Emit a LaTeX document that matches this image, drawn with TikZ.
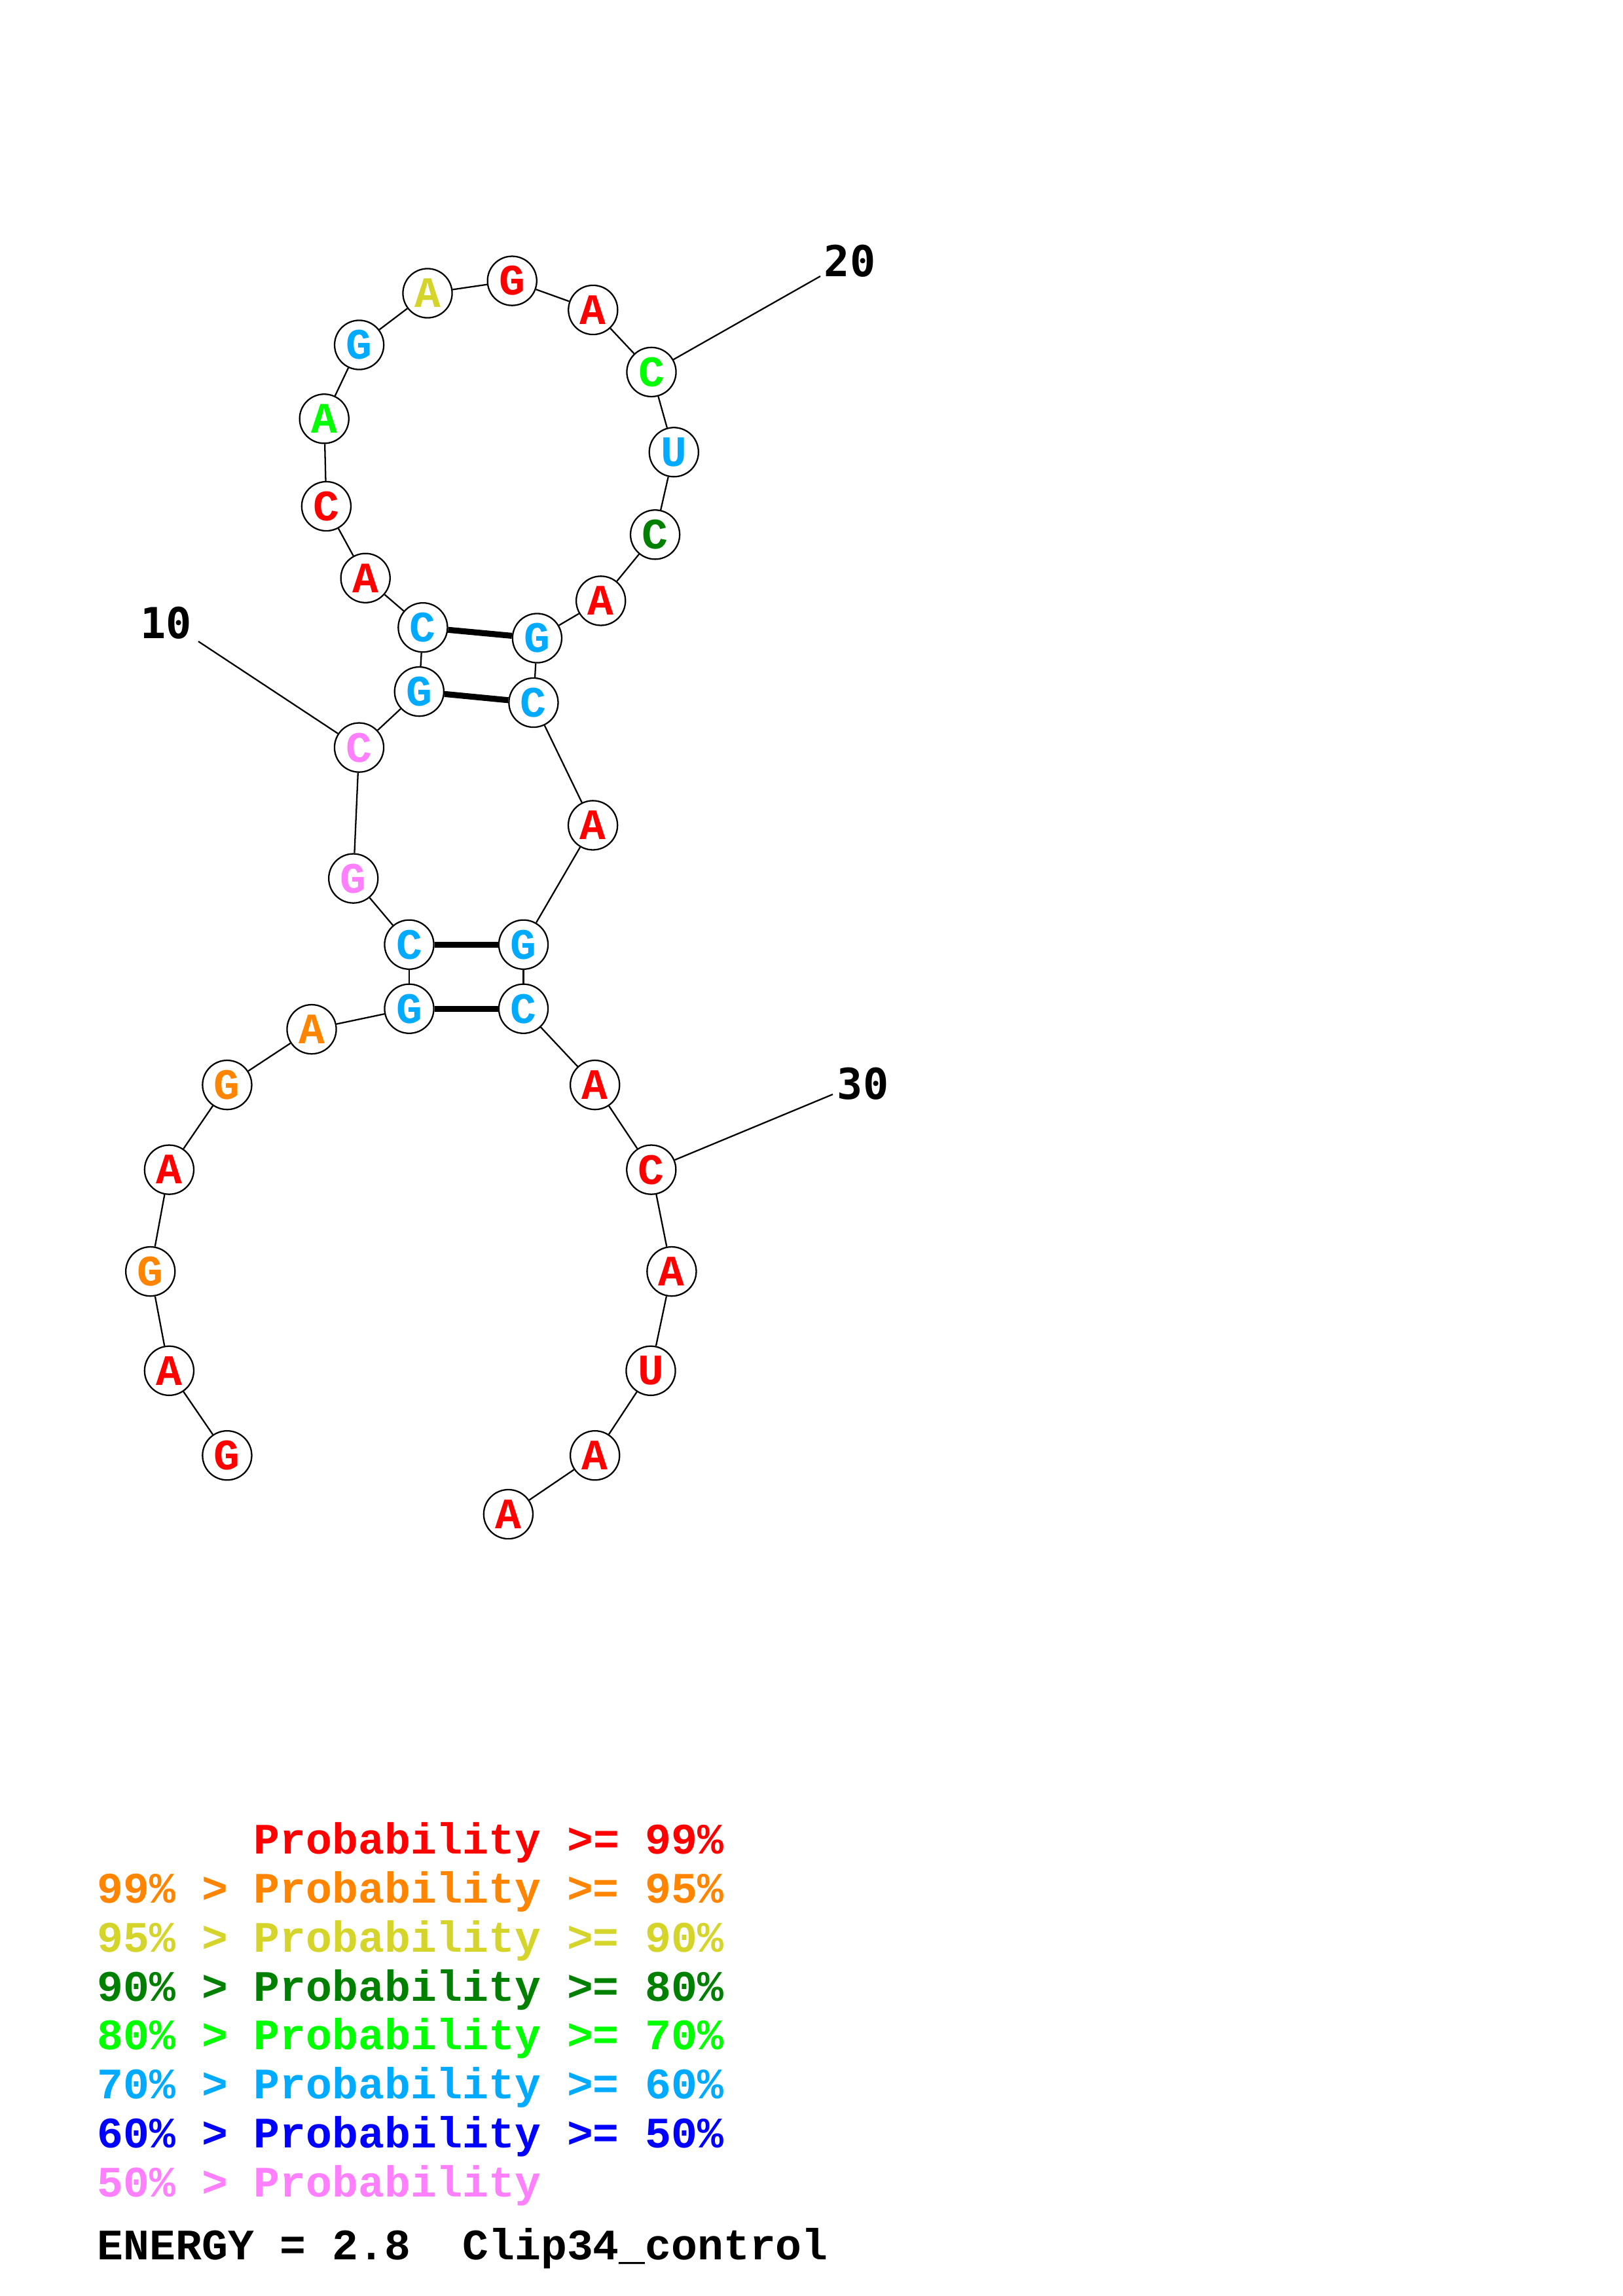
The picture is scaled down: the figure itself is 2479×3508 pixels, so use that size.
\documentclass[tikz,border=0pt]{standalone}
\usepackage{fontspec}
\setmonofont{Liberation Mono}
\newfontfamily\labfont{DejaVu Sans Mono}
\definecolor{cR}{RGB}{255,0,0}
\definecolor{cO}{RGB}{255,133,0}
\definecolor{cY}{RGB}{212,212,42}
\definecolor{cDG}{RGB}{0,128,0}
\definecolor{cG}{RGB}{0,255,0}
\definecolor{cLB}{RGB}{0,170,255}
\definecolor{cB}{RGB}{0,0,255}
\definecolor{cP}{RGB}{255,128,255}
\begin{document}
\frenchspacing
\begin{tikzpicture}[x=0.2409pt,y=-0.2409pt,
  nt/.style={circle,draw=black,fill=white,line width=0.55pt,minimum size=18.1pt,inner sep=0pt,
    font=\ttfamily\bfseries\fontsize{16}{16}\selectfont},
  bb/.style={line width=0.55pt},
  pairline/.style={line width=2.2pt},
  numlab/.style={inner sep=0pt,font=\labfont\bfseries\fontsize{15.7}{16}\selectfont},
  leg/.style={anchor=base west,inner sep=0pt,font=\ttfamily\bfseries\fontsize{16}{16}\selectfont}]
\useasboundingbox (0,0) rectangle (2479,3508);
\foreach \i/\x/\y/\b/\c in {
 1/346.9/2223.7/G/cR, 2/258.4/2094.3/A/cR, 3/229.7/1942.6/G/cO, 4/258.4/1787.1/A/cR,
 5/346.9/1657.6/G/cO, 6/476.0/1572.6/A/cO, 7/625.0/1541.2/G/cLB, 8/625.0/1443.2/C/cLB,
 9/539.7/1342.1/G/cP, 10/548.5/1142.1/C/cP, 11/640.3/1056.6/G/cLB, 12/645.9/958.7/C/cLB,
 13/558.2/883.2/A/cR, 14/498.4/773.5/C/cR, 15/495.2/639.8/A/cG, 16/548.6/527.0/G/cLB,
 17/653.0/448.0/A/cY, 18/782.2/429.1/G/cR, 19/905.8/473.5/A/cR, 20/995.0/568.4/C/cG,
 21/1029.3/690.8/U/cLB, 22/1000.6/816.8/C/cDG, 23/917.7/917.9/A/cR, 24/820.4/975.0/G/cLB,
 25/814.9/1073.5/C/cLB, 26/905.6/1260.9/A/cR, 27/799.5/1443.2/G/cLB, 28/799.5/1541.2/C/cLB,
 29/908.7/1657.6/A/cR, 30/994.8/1787.1/C/cR, 31/1025.9/1942.6/A/cR, 32/994.0/2094.3/U/cR,
 33/908.7/2223.7/A/cR, 34/776.4/2313.5/A/cR}
 {\node[nt,text=\c] (n\i) at (\x,\y) {\b};}
% backbone
\foreach \i [evaluate=\i as \j using int(\i+1)] in {1,...,33}
 {\draw[bb] (n\i) -- (n\j);}
% base pairs
\draw[pairline] (n7) -- (n28);
\draw[pairline] (n8) -- (n27);
\draw[pairline] (n11) -- (n25);
\draw[pairline] (n12) -- (n24);
% position labels
\coordinate (e10) at (303,980);
\coordinate (e20) at (1253,422);
\coordinate (e30) at (1272,1672);
\draw[bb] (n10) -- (e10);
\draw[bb] (n20) -- (e20);
\draw[bb] (n30) -- (e30);
\node[numlab] (t10) at (254,951.5) {10};
\node[numlab] (t20) at (1298,399) {20};
\node[numlab] (t30) at (1318,1656) {30};
% legend
\node[leg,text=cR] (g1) at (148,2832.6) {\hphantom{99\% > }Probability >= 99\%};
\node[leg,text=cO] (g2) at (148,2907.4) {99\% > Probability >= 95\%};
\node[leg,text=cY] (g3) at (148,2982.2) {95\% > Probability >= 90\%};
\node[leg,text=cDG] (g4) at (148,3057.0) {90\% > Probability >= 80\%};
\node[leg,text=cG] (g5) at (148,3131.8) {80\% > Probability >= 70\%};
\node[leg,text=cLB] (g6) at (148,3206.6) {70\% > Probability >= 60\%};
\node[leg,text=cB] (g7) at (148,3281.4) {60\% > Probability >= 50\%};
\node[leg,text=cP] (g8) at (148,3356.2) {50\% > Probability};
\node[leg,text=black] (en) at (148,3452) {ENERGY = 2.8~~Clip34\_control};
\end{tikzpicture}
\end{document}
